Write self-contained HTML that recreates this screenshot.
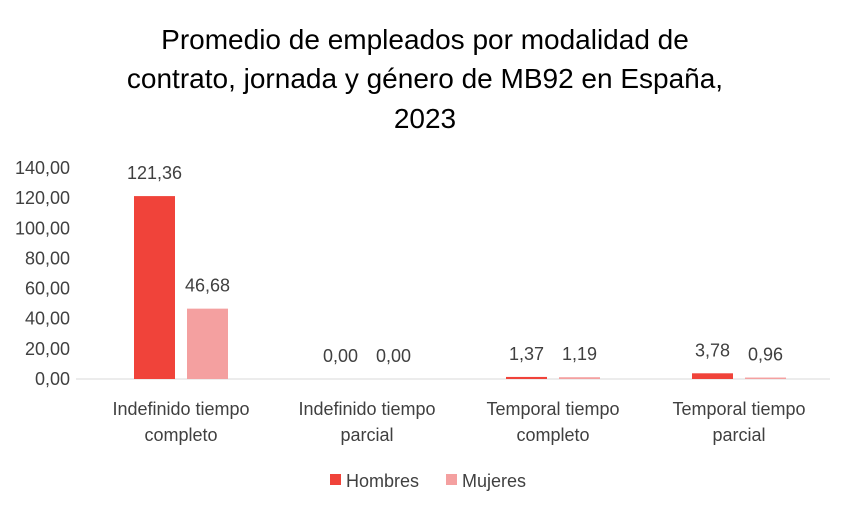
<!DOCTYPE html>
<html><head><meta charset="utf-8"><style>
body{margin:0;background:#fff;}
svg text{font-family:"Liberation Sans",sans-serif;}
</style></head><body>
<svg width="851" height="508">
<g font-size="28" fill="#000" text-anchor="middle">
<text x="425" y="49">Promedio de empleados por modalidad de</text>
<text x="425" y="88">contrato, jornada y género de MB92 en España,</text>
<text x="425" y="128">2023</text>
</g>
<g id="yaxis"></g>
<line x1="76" y1="379" x2="830" y2="379" stroke="#d9d9d9" stroke-width="1"/>
<g id="bars"></g>
<g id="xlabels"></g>
<g font-size="18" fill="#404040">
<rect x="330" y="474" width="11" height="11" fill="#F0433A"/>
<text x="346" y="487">Hombres</text>
<rect x="446" y="474" width="11" height="11" fill="#F4A0A0"/>
<text x="462" y="487">Mujeres</text>
</g>
</svg>
<script>
const categories=[["Indefinido tiempo","completo"],["Indefinido tiempo","parcial"],["Temporal tiempo","completo"],["Temporal tiempo","parcial"]];
const hombres=[121.36,0,1.37,3.78];
const mujeres=[46.68,0,1.19,0.96];
const yTicks=[0,20,40,60,80,100,120,140];
const NS="http://www.w3.org/2000/svg";
const x0=88,x1=832,yBase=379,yTop=168,yMax=140;
const y=v=>yBase-(v/yMax)*(yBase-yTop);
const band=(x1-x0)/categories.length;
const cx=i=>x0+band*(i+0.5);
const fmt=v=>v.toFixed(2).replace('.',',');
function mk(tag,attrs,parent,txt){const e=document.createElementNS(NS,tag);for(const k in attrs)e.setAttribute(k,attrs[k]);if(txt!==undefined)e.textContent=txt;parent.appendChild(e);return e;}
const ya=document.getElementById('yaxis');
yTicks.forEach(t=>{const e=mk('text',{x:70,y:y(t)+6,'text-anchor':'end','font-size':18,fill:'#404040'},ya,fmt(t));

});
const bg=document.getElementById('bars');
const bw=41;
categories.forEach((c,i)=>{
 [[hombres,'#F0433A',-47,'bar-hombres'],[mujeres,'#F4A0A0',6,'bar-mujeres']].forEach(([s,col,off,nm])=>{
  const v=s[i];const top=y(v);
  const r=mk('rect',{x:cx(i)+off,y:top,width:bw,height:Math.max(yBase-top,0),fill:col},bg);
  
  
  const t=mk('text',{x:cx(i)+off+bw/2,y:top-17,'text-anchor':'middle','font-size':18,fill:'#404040'},bg,fmt(v));
  
  
 });
 const xl=document.getElementById('xlabels');
 c.forEach((line,j)=>{const t=mk('text',{x:cx(i),y:415+j*26,'text-anchor':'middle','font-size':18,fill:'#404040'},xl,line);
 
 });
});
</script>
</body></html>
